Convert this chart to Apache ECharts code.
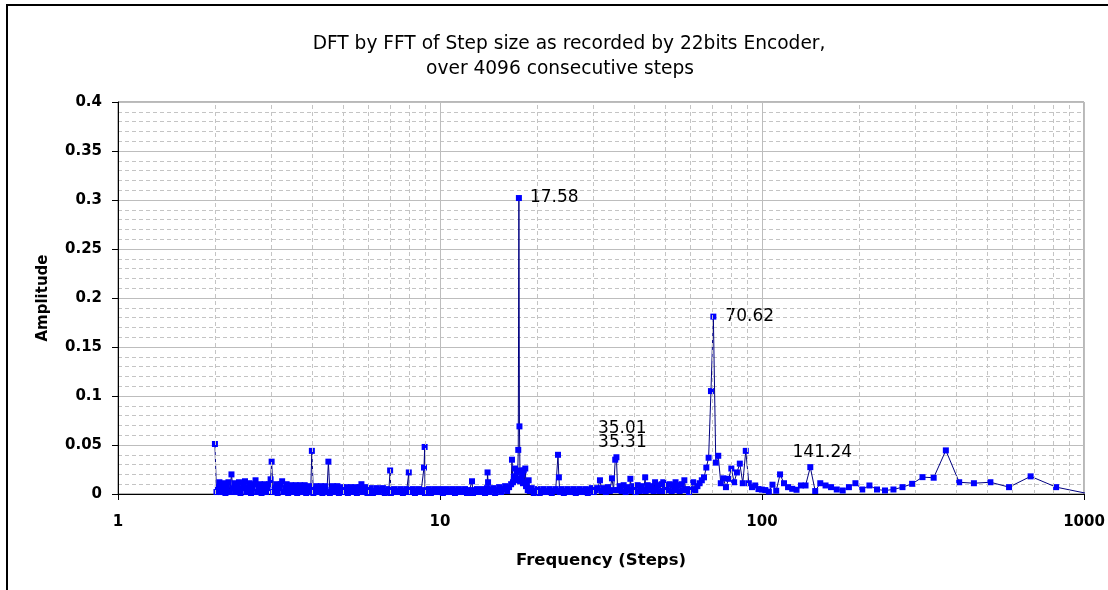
<!DOCTYPE html>
<html>
<head>
<meta charset="utf-8">
<script src="https://cdn.jsdelivr.net/npm/echarts@6/dist/echarts.min.js"></script>
<style>
  html, body { margin: 0; padding: 0; background: #ffffff; }
  #chart { width: 1108px; height: 590px; }
</style>
</head>
<body>
<div id="chart"></div>
<script>
// [period in steps, amplitude] — short periods, 2 .. 10 steps
const shortPeriods = [
  [2.000, 0.051], [2.022, 0.002], [2.043, 0.007], [2.065, 0.012], [2.088, 0.002], [2.110, 0.007], [2.133, 0.011], [2.156, 0.001],
  [2.179, 0.007], [2.203, 0.012], [2.227, 0.002], [2.251, 0.020], [2.275, 0.006], [2.300, 0.011], [2.325, 0.002], [2.350, 0.007],
  [2.375, 0.012], [2.401, 0.001], [2.427, 0.006], [2.453, 0.011], [2.480, 0.013], [2.507, 0.002], [2.534, 0.007], [2.561, 0.011],
  [2.589, 0.001], [2.617, 0.006], [2.645, 0.010], [2.674, 0.014], [2.703, 0.002], [2.732, 0.006], [2.761, 0.010], [2.791, 0.001],
  [2.821, 0.006], [2.852, 0.010], [2.883, 0.002], [2.914, 0.006], [2.946, 0.010], [2.978, 0.015], [3.000, 0.033],
  [3.032, 0.002], [3.065, 0.006], [3.098, 0.010], [3.132, 0.001], [3.166, 0.006], [3.200, 0.010], [3.234, 0.013], [3.269, 0.002],
  [3.305, 0.006], [3.340, 0.010], [3.376, 0.001], [3.413, 0.005], [3.450, 0.009], [3.487, 0.002], [3.525, 0.006], [3.563, 0.009],
  [3.601, 0.001], [3.640, 0.005], [3.679, 0.009], [3.719, 0.002], [3.759, 0.005], [3.800, 0.009], [3.841, 0.001], [3.882, 0.005],
  [3.924, 0.008], [3.966, 0.002], [4.000, 0.044],
  [4.043, 0.001], [4.087, 0.005], [4.131, 0.008], [4.176, 0.002], [4.221, 0.005], [4.266, 0.008], [4.312, 0.001], [4.359, 0.005],
  [4.406, 0.008], [4.454, 0.002], [4.502, 0.033], [4.550, 0.001], [4.600, 0.004], [4.649, 0.008], [4.699, 0.002], [4.750, 0.005],
  [4.801, 0.008], [4.853, 0.001], [4.906, 0.004], [4.959, 0.007], [5.012, 0.002], [5.066, 0.004], [5.121, 0.007], [5.176, 0.001],
  [5.232, 0.004], [5.288, 0.007], [5.345, 0.002], [5.403, 0.004], [5.461, 0.007], [5.520, 0.001], [5.580, 0.004], [5.640, 0.007],
  [5.701, 0.010], [5.762, 0.002], [5.824, 0.004], [5.887, 0.007], [5.951, 0.001], [6.015, 0.004],
  [6.10, 0.006], [6.19, 0.001], [6.28, 0.003], [6.37, 0.006], [6.46, 0.002], [6.55, 0.004], [6.65, 0.006], [6.74, 0.001],
  [6.84, 0.003], [6.94, 0.005], [7.00, 0.024], [7.04, 0.001], [7.14, 0.003], [7.24, 0.005], [7.35, 0.002], [7.45, 0.003],
  [7.56, 0.005], [7.67, 0.001], [7.78, 0.003], [7.89, 0.005], [8.00, 0.022], [8.01, 0.002], [8.12, 0.004], [8.24, 0.005],
  [8.36, 0.001], [8.48, 0.003], [8.60, 0.005], [8.73, 0.002], [8.85, 0.004], [8.92, 0.027], [8.96, 0.048], [8.98, 0.001],
  [9.11, 0.003], [9.24, 0.005], [9.37, 0.001], [9.51, 0.003], [9.65, 0.005], [9.79, 0.002], [9.93, 0.003], [10.07, 0.005]
];

// middle periods, 10 .. 35.3 steps (main peak at 17.58)
const midPeriods = [
  [10.21, 0.001], [10.36, 0.003], [10.51, 0.005], [10.66, 0.002], [10.82, 0.003], [10.97, 0.005], [11.13, 0.001], [11.29, 0.003],
  [11.45, 0.005], [11.62, 0.002], [11.79, 0.003], [11.96, 0.005], [12.13, 0.001], [12.31, 0.003], [12.48, 0.004], [12.57, 0.013],
  [12.66, 0.001], [12.85, 0.003], [13.03, 0.005], [13.22, 0.002], [13.41, 0.003], [13.60, 0.005], [13.80, 0.001], [14.00, 0.006],
  [14.05, 0.022], [14.10, 0.012], [14.20, 0.002], [14.41, 0.004], [14.62, 0.006], [14.83, 0.001], [15.04, 0.004], [15.26, 0.007],
  [15.48, 0.002], [15.70, 0.005], [15.93, 0.008], [16.16, 0.003], [16.39, 0.007], [16.63, 0.010],
  [16.73, 0.035], [16.85, 0.012], [16.97, 0.018], [17.10, 0.026], [17.22, 0.014], [17.30, 0.022], [17.42, 0.016], [17.50, 0.045],
  [17.58, 0.302], [17.65, 0.069], [17.73, 0.013], [17.80, 0.024], [17.90, 0.015], [18.00, 0.020], [18.10, 0.011], [18.20, 0.024],
  [18.30, 0.012], [18.40, 0.026], [18.50, 0.008], [18.60, 0.010], [18.73, 0.004], [18.85, 0.014], [19.00, 0.003],
  [19.27, 0.006], [19.55, 0.001], [19.83, 0.003], [20.12, 0.005], [20.41, 0.001], [20.70, 0.003], [21.00, 0.005], [21.30, 0.002],
  [21.61, 0.003], [21.92, 0.005], [22.24, 0.001], [22.56, 0.003], [22.88, 0.005], [23.05, 0.003], [23.25, 0.040], [23.40, 0.017],
  [23.55, 0.002], [23.89, 0.005], [24.24, 0.001], [24.59, 0.003], [24.94, 0.005], [25.30, 0.002], [25.67, 0.003], [26.04, 0.005],
  [26.41, 0.001], [26.79, 0.003], [27.18, 0.005], [27.57, 0.002], [27.97, 0.003], [28.37, 0.005], [28.78, 0.001], [29.20, 0.004],
  [29.62, 0.006], [30.05, 0.002], [30.48, 0.004], [30.92, 0.006], [31.39, 0.014], [31.82, 0.003], [32.28, 0.006], [32.74, 0.002],
  [33.21, 0.007], [33.69, 0.003], [34.20, 0.016], [34.60, 0.004], [35.01, 0.035], [35.31, 0.0375]
];

// longer periods, 35.6 .. 60.2 steps
const longPeriods = [
  [35.62, 0.004], [36.13, 0.008], [36.65, 0.003], [37.18, 0.009], [37.72, 0.002], [38.26, 0.007], [38.81, 0.004], [39.01, 0.0155],
  [39.37, 0.003], [39.94, 0.008], [40.51, 0.002], [41.10, 0.009], [41.69, 0.003], [42.29, 0.008], [42.90, 0.004], [43.37, 0.017],
  [43.52, 0.003], [44.15, 0.009], [44.78, 0.004], [45.43, 0.008], [46.08, 0.003], [46.55, 0.012], [46.75, 0.004], [47.42, 0.009],
  [48.11, 0.003], [48.80, 0.010], [49.35, 0.012], [49.50, 0.003], [50.22, 0.009], [50.94, 0.004], [51.68, 0.010], [52.42, 0.003],
  [53.18, 0.009], [53.89, 0.012], [53.95, 0.004], [54.72, 0.009], [55.51, 0.003], [56.31, 0.010], [57.12, 0.004], [57.39, 0.014],
  [57.95, 0.005], [58.51, 0.004], [59.36, 0.002], [60.24, 0.005]
];

// one point per FFT bin, periods 61 .. 1024 steps
const binPeriods = [
  [61.13, 0.012], [62.06, 0.004], [63.02, 0.008], [64.00, 0.011], [65.02, 0.014], [66.06, 0.017], [67.15, 0.027], [68.27, 0.037],
  [69.42, 0.105], [70.62, 0.181], [71.86, 0.032], [73.14, 0.039], [74.47, 0.011], [75.85, 0.016], [77.28, 0.007], [78.77, 0.0155],
  [80.31, 0.026], [81.92, 0.012], [83.59, 0.022], [85.33, 0.031], [87.15, 0.011], [89.04, 0.044], [91.02, 0.011], [93.09, 0.007],
  [95.26, 0.0087], [97.52, 0.005], [99.90, 0.0045], [102.40, 0.004], [105.03, 0.0025], [107.79, 0.0095], [110.70, 0.0033], [113.78, 0.020],
  [117.03, 0.011], [120.47, 0.007], [124.12, 0.0053], [128.00, 0.0043], [132.13, 0.0087], [136.53, 0.0087], [141.24, 0.0274], [146.29, 0.003],
  [151.70, 0.011], [157.54, 0.0087], [163.84, 0.007], [170.67, 0.0046], [178.09, 0.0036], [186.18, 0.007], [195.05, 0.011], [204.80, 0.0046],
  [215.58, 0.0087], [227.56, 0.0046], [240.94, 0.0036], [256.00, 0.0046], [273.07, 0.007], [292.57, 0.0104], [315.08, 0.0172], [341.33, 0.0166],
  [372.36, 0.0445], [409.60, 0.012], [455.11, 0.011], [512.00, 0.012], [585.14, 0.007], [682.67, 0.018], [819.20, 0.007], [1024.00, 0.0005]
];

// Peaks whose period is written next to them
const labelledPeriods = [17.58, 35.01, 35.31, 70.62, 141.24];

// Axis settings
const yTicks = [0, 0.05, 0.1, 0.15, 0.2, 0.25, 0.3, 0.35, 0.4];
const xRange = [1, 1000];
const xMinorGrid = [2, 3, 4, 5, 6, 7, 8, 9, 20, 30, 40, 50, 60, 70, 80, 90, 200, 300, 400, 500, 600, 700, 800, 900];

const titleLines = ['DFT by FFT of Step size as recorded by 22bits Encoder,', 'over 4096 consecutive steps'];
const xName = 'Frequency (Steps)';
const yName = 'Amplitude';

// ---- build series data ----
const allPoints = shortPeriods.concat(midPeriods, longPeriods, binPeriods);

const labelPlacement = {
  17.58: { position: 'right', distance: 8 },
  70.62: { position: 'right', distance: 9 },
  141.24: { position: 'top', distance: 3, offset: [12, 0] },
  35.31: { position: 'top', distance: 3, offset: [6, 0] },
  35.01: { position: 'top', distance: 3, offset: [7, -17] }
};

const FONT = 'DejaVu Sans';

const seriesData = allPoints.map(([f, a]) => {
  const item = { value: [f, a] };
  if (labelledPeriods.indexOf(f) >= 0) {
    item.label = Object.assign({
      show: true,
      formatter: (p) => p.value[0].toFixed(2),
      color: '#000000',
      fontFamily: FONT,
      fontSize: 17
    }, labelPlacement[f]);
  }
  return item;
});

const titleStyle = { fontFamily: FONT, fontSize: 18.6, fontWeight: 'normal', color: '#000000' };

const chart = echarts.init(document.getElementById('chart'), null, { renderer: 'canvas' });

chart.setOption({
  animation: false,
  backgroundColor: '#ffffff',
  title: [
    { text: titleLines[0], left: 564, top: 30, textAlign: 'center', textStyle: titleStyle },
    { text: titleLines[1], left: 555, top: 55, textAlign: 'center', textStyle: titleStyle }
  ],
  graphic: [{
    type: 'rect',
    shape: { x: 7, y: 5, width: 1300, height: 800 },
    style: { fill: null, stroke: '#000000', lineWidth: 2 },
    silent: true,
    z: 100
  }],
  grid: {
    left: 118,
    right: 24,
    top: 102,
    bottom: 96,
    show: true,
    borderColor: '#707070',
    borderWidth: 1,
    backgroundColor: '#ffffff'
  },
  xAxis: {
    type: 'log',
    logBase: 10,
    min: xRange[0],
    max: xRange[1],
    name: xName,
    nameLocation: 'middle',
    nameGap: 58,
    nameTextStyle: { fontFamily: FONT, fontSize: 16.5, fontWeight: 'bold', color: '#000000' },
    axisLine: { show: true, lineStyle: { color: '#000000', width: 1 } },
    axisTick: { show: true, inside: false, length: 6, lineStyle: { color: '#000000' } },
    axisLabel: {
      fontFamily: FONT, fontSize: 15, fontWeight: 'bold', color: '#000000', margin: 21,
      formatter: (v) => String(Math.round(v))
    },
    splitLine: { show: true, lineStyle: { color: '#bdbdbd', width: 1 } },
    minorTick: { show: false },
    minorSplitLine: { show: false }
  },
  yAxis: {
    type: 'value',
    min: yTicks[0],
    max: yTicks[yTicks.length - 1],
    interval: yTicks[1] - yTicks[0],
    name: yName,
    nameLocation: 'middle',
    nameGap: 67,
    nameTextStyle: { fontFamily: FONT, fontSize: 15, fontWeight: 'bold', color: '#000000' },
    axisLine: { show: true, lineStyle: { color: '#000000', width: 1 } },
    axisTick: { show: true, inside: false, length: 6, lineStyle: { color: '#000000' } },
    axisLabel: { fontFamily: FONT, fontSize: 15, fontWeight: 'bold', color: '#000000', margin: 16 },
    splitLine: { show: true, lineStyle: { color: '#bdbdbd', width: 1 } },
    minorTick: { show: false, splitNumber: 5 },
    minorSplitLine: { show: true, lineStyle: { color: '#c4c4c4', width: 1, type: [4, 3] } }
  },
  series: [
    {
      // dashed minor gridlines of the logarithmic axis
      name: 'xMinorGrid',
      type: 'line',
      data: [],
      z: 1,
      silent: true,
      markLine: {
        silent: true,
        symbol: ['none', 'none'],
        label: { show: false },
        lineStyle: { color: '#c4c4c4', width: 1, type: [4, 3] },
        data: xMinorGrid.map(v => ({ xAxis: v }))
      }
    },
    {
      name: 'Amplitude',
      type: 'line',
      z: 3,
      data: seriesData,
      symbol: 'rect',
      symbolSize: 6,
      showSymbol: true,
      clip: true,
      lineStyle: { color: '#000080', width: 1 },
      itemStyle: { color: '#0000ff' }
    }
  ]
});
</script>
</body>
</html>
